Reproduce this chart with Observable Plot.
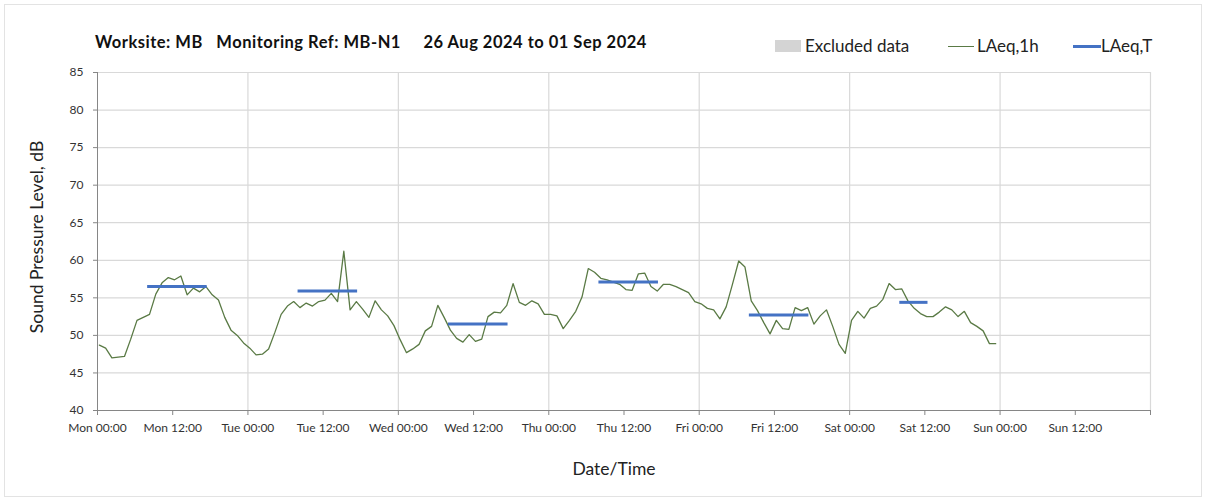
<!DOCTYPE html>
<html>
<head>
<meta charset="utf-8">
<script src="https://cdn.jsdelivr.net/npm/d3@7"></script>
<script src="https://cdn.jsdelivr.net/npm/@observablehq/plot@0.6"></script>
<style>
  body { margin: 0; background: #fff; font-family: Lato, "Open Sans", sans-serif; color: #222; }
  #wrap { position: relative; width: 1208px; height: 502px; overflow: hidden; }
  #frame { position: absolute; left: 4px; top: 4px; width: 1198px; height: 493px; border: 1px solid #e3e3e3; box-sizing: border-box; pointer-events: none; }
  #header { position: relative; height: 60px; }
  #title { position: absolute; left: 95px; top: 33px; font-size: 16.5px; letter-spacing: 0.5px; font-weight: bold; white-space: pre; line-height: 18px; color: #111; }
  .leg { position: absolute; top: 36px; font-size: 17px; line-height: 19px; color: #222; white-space: pre; }
  .sw { position: absolute; }
  #ylab { position: absolute; left: 36px; top: 237px; transform: translate(-50%, -50%) rotate(-90deg); font-size: 17.5px; white-space: pre; color: #222; }
  #xlab { position: absolute; left: 614px; top: 468px; transform: translate(-50%, -50%); font-size: 17.5px; color: #222; }
</style>
</head>
<body>
<div id="wrap">
  <div id="header">
    <div id="title">Worksite: MB   Monitoring Ref: MB-N1     26 Aug 2024 to 01 Sep 2024</div>
    <div class="sw" style="left:775px;top:40px;width:26px;height:12px;background:#d4d4d4"></div>
    <div class="leg" style="left:805px">Excluded data</div>
    <div class="sw" style="left:948px;top:45.5px;width:26px;height:1.3px;background:#5a7a45"></div>
    <div class="leg" style="left:977px">LAeq,1h</div>
    <div class="sw" style="left:1073px;top:44.5px;width:28px;height:3px;background:#4472c4"></div>
    <div class="leg" style="left:1101px">LAeq,T</div>
  </div>
  <div id="chart"></div>
  <div id="ylab">Sound Pressure Level, dB</div>
  <div id="xlab">Date/Time</div>
  <div id="frame"></div>
</div>
<script>
// Hourly LAeq,1h values from Mon 26 Aug 2024 00:00 (one per hour)
const laeq1h = [
  48.7, 48.3, 47.0, 47.1, 47.2, 49.5, 52.0, 52.4, 52.8, 55.5, 57.0, 57.7,
  57.4, 57.9, 55.4, 56.3, 55.8, 56.5, 55.4, 54.7, 52.4, 50.7, 50.0, 49.0,
  48.3, 47.4, 47.5, 48.2, 50.4, 52.8, 53.9, 54.5, 53.7, 54.3, 53.9, 54.5,
  54.7, 55.6, 54.5, 61.2, 53.4, 54.5, 53.5, 52.4, 54.6, 53.4, 52.6, 51.3,
  49.4, 47.7, 48.2, 48.8, 50.6, 51.2, 54.0, 52.4, 50.7, 49.6, 49.1, 50.1,
  49.2, 49.5, 52.5, 53.1, 53.0, 54.0, 56.9, 54.4, 54.0, 54.6, 54.2, 52.8,
  52.8, 52.6, 50.9, 52.0, 53.2, 55.1, 58.9, 58.4, 57.6, 57.4, 57.1, 56.8,
  56.1, 56.0, 58.2, 58.3, 56.5, 55.9, 56.8, 56.8, 56.5, 56.1, 55.7, 54.5,
  54.2, 53.6, 53.4, 52.2, 53.8, 56.8, 59.9, 59.1, 54.6, 53.3, 51.7, 50.2,
  52.0, 50.9, 50.8, 53.7, 53.3, 53.7, 51.5, 52.6, 53.4, 51.2, 48.8, 47.6,
  52.0, 53.2, 52.3, 53.6, 53.9, 54.8, 56.9, 56.1, 56.2, 54.6, 53.6, 52.9,
  52.5, 52.5, 53.1, 53.8, 53.4, 52.5, 53.2, 51.7, 51.2, 50.6, 48.9, 48.9
];
// LAeq,T daytime periods (hours from Mon 00:00) and levels
const periodStart = [8, 32, 56, 80, 104, 128];
const periodEnd   = [17.5, 41.5, 65.5, 89.5, 113.5, 132.5];
const periodLevel = [56.5, 55.9, 51.5, 57.1, 52.7, 54.4];

const tickLabels = ["Mon 00:00","Mon 12:00","Tue 00:00","Tue 12:00","Wed 00:00","Wed 12:00",
  "Thu 00:00","Thu 12:00","Fri 00:00","Fri 12:00","Sat 00:00","Sat 12:00","Sun 00:00","Sun 12:00",""];
const yTicks = [40, 45, 50, 55, 60, 65, 70, 75, 80, 85];

const start = Date.UTC(2024, 7, 26);
const HOUR = 3600e3;
const at = h => new Date(start + h * HOUR);
const lineData = laeq1h.map((v, i) => ({t: at(i + 0.3), v}));
const periods = periodLevel.map((v, i) => ({x1: at(periodStart[i]), x2: at(periodEnd[i]), v}));
const xTicks = tickLabels.map((_, i) => at(i * 12));
const dayLines = xTicks.filter((_, i) => i % 2 === 0 && i > 0);

const chart = Plot.plot({
  width: 1208,
  height: 442,
  marginLeft: 97,
  marginRight: 58,
  marginTop: 12,
  marginBottom: 92,
  style: {fontFamily: "Lato, 'Open Sans', sans-serif", fontSize: "12px", color: "#333", background: "transparent", overflow: "visible"},
  x: {type: "utc", domain: [at(0), at(168)]},
  y: {domain: [40, 85]},
  marks: [
    Plot.ruleY(yTicks.filter(d => d > 40), {stroke: "#d9d9d9", strokeWidth: 1.2}),
    Plot.ruleX(dayLines, {stroke: "#d9d9d9", strokeWidth: 1.2}),
    Plot.ruleX([at(0)], {stroke: "#868686"}),
    Plot.ruleY([40], {stroke: "#868686"}),
    Plot.axisY({ticks: yTicks, tickSize: 4, tickPadding: 10, label: null, stroke: "#868686", fill: "#333"}),
    Plot.axisX({ticks: xTicks, tickSize: 5, tickPadding: 8, label: null, stroke: "#868686", fill: "#333",
      tickFormat: d => tickLabels[Math.round((d - start) / (12 * HOUR))]}),
    Plot.line(lineData, {x: "t", y: "v", stroke: "#5a7a45", strokeWidth: 1.3}),
    Plot.ruleY(periods, {y: "v", x1: "x1", x2: "x2", stroke: "#4472c4", strokeWidth: 3})
  ]
});
document.getElementById("chart").appendChild(chart);
</script>
</body>
</html>
